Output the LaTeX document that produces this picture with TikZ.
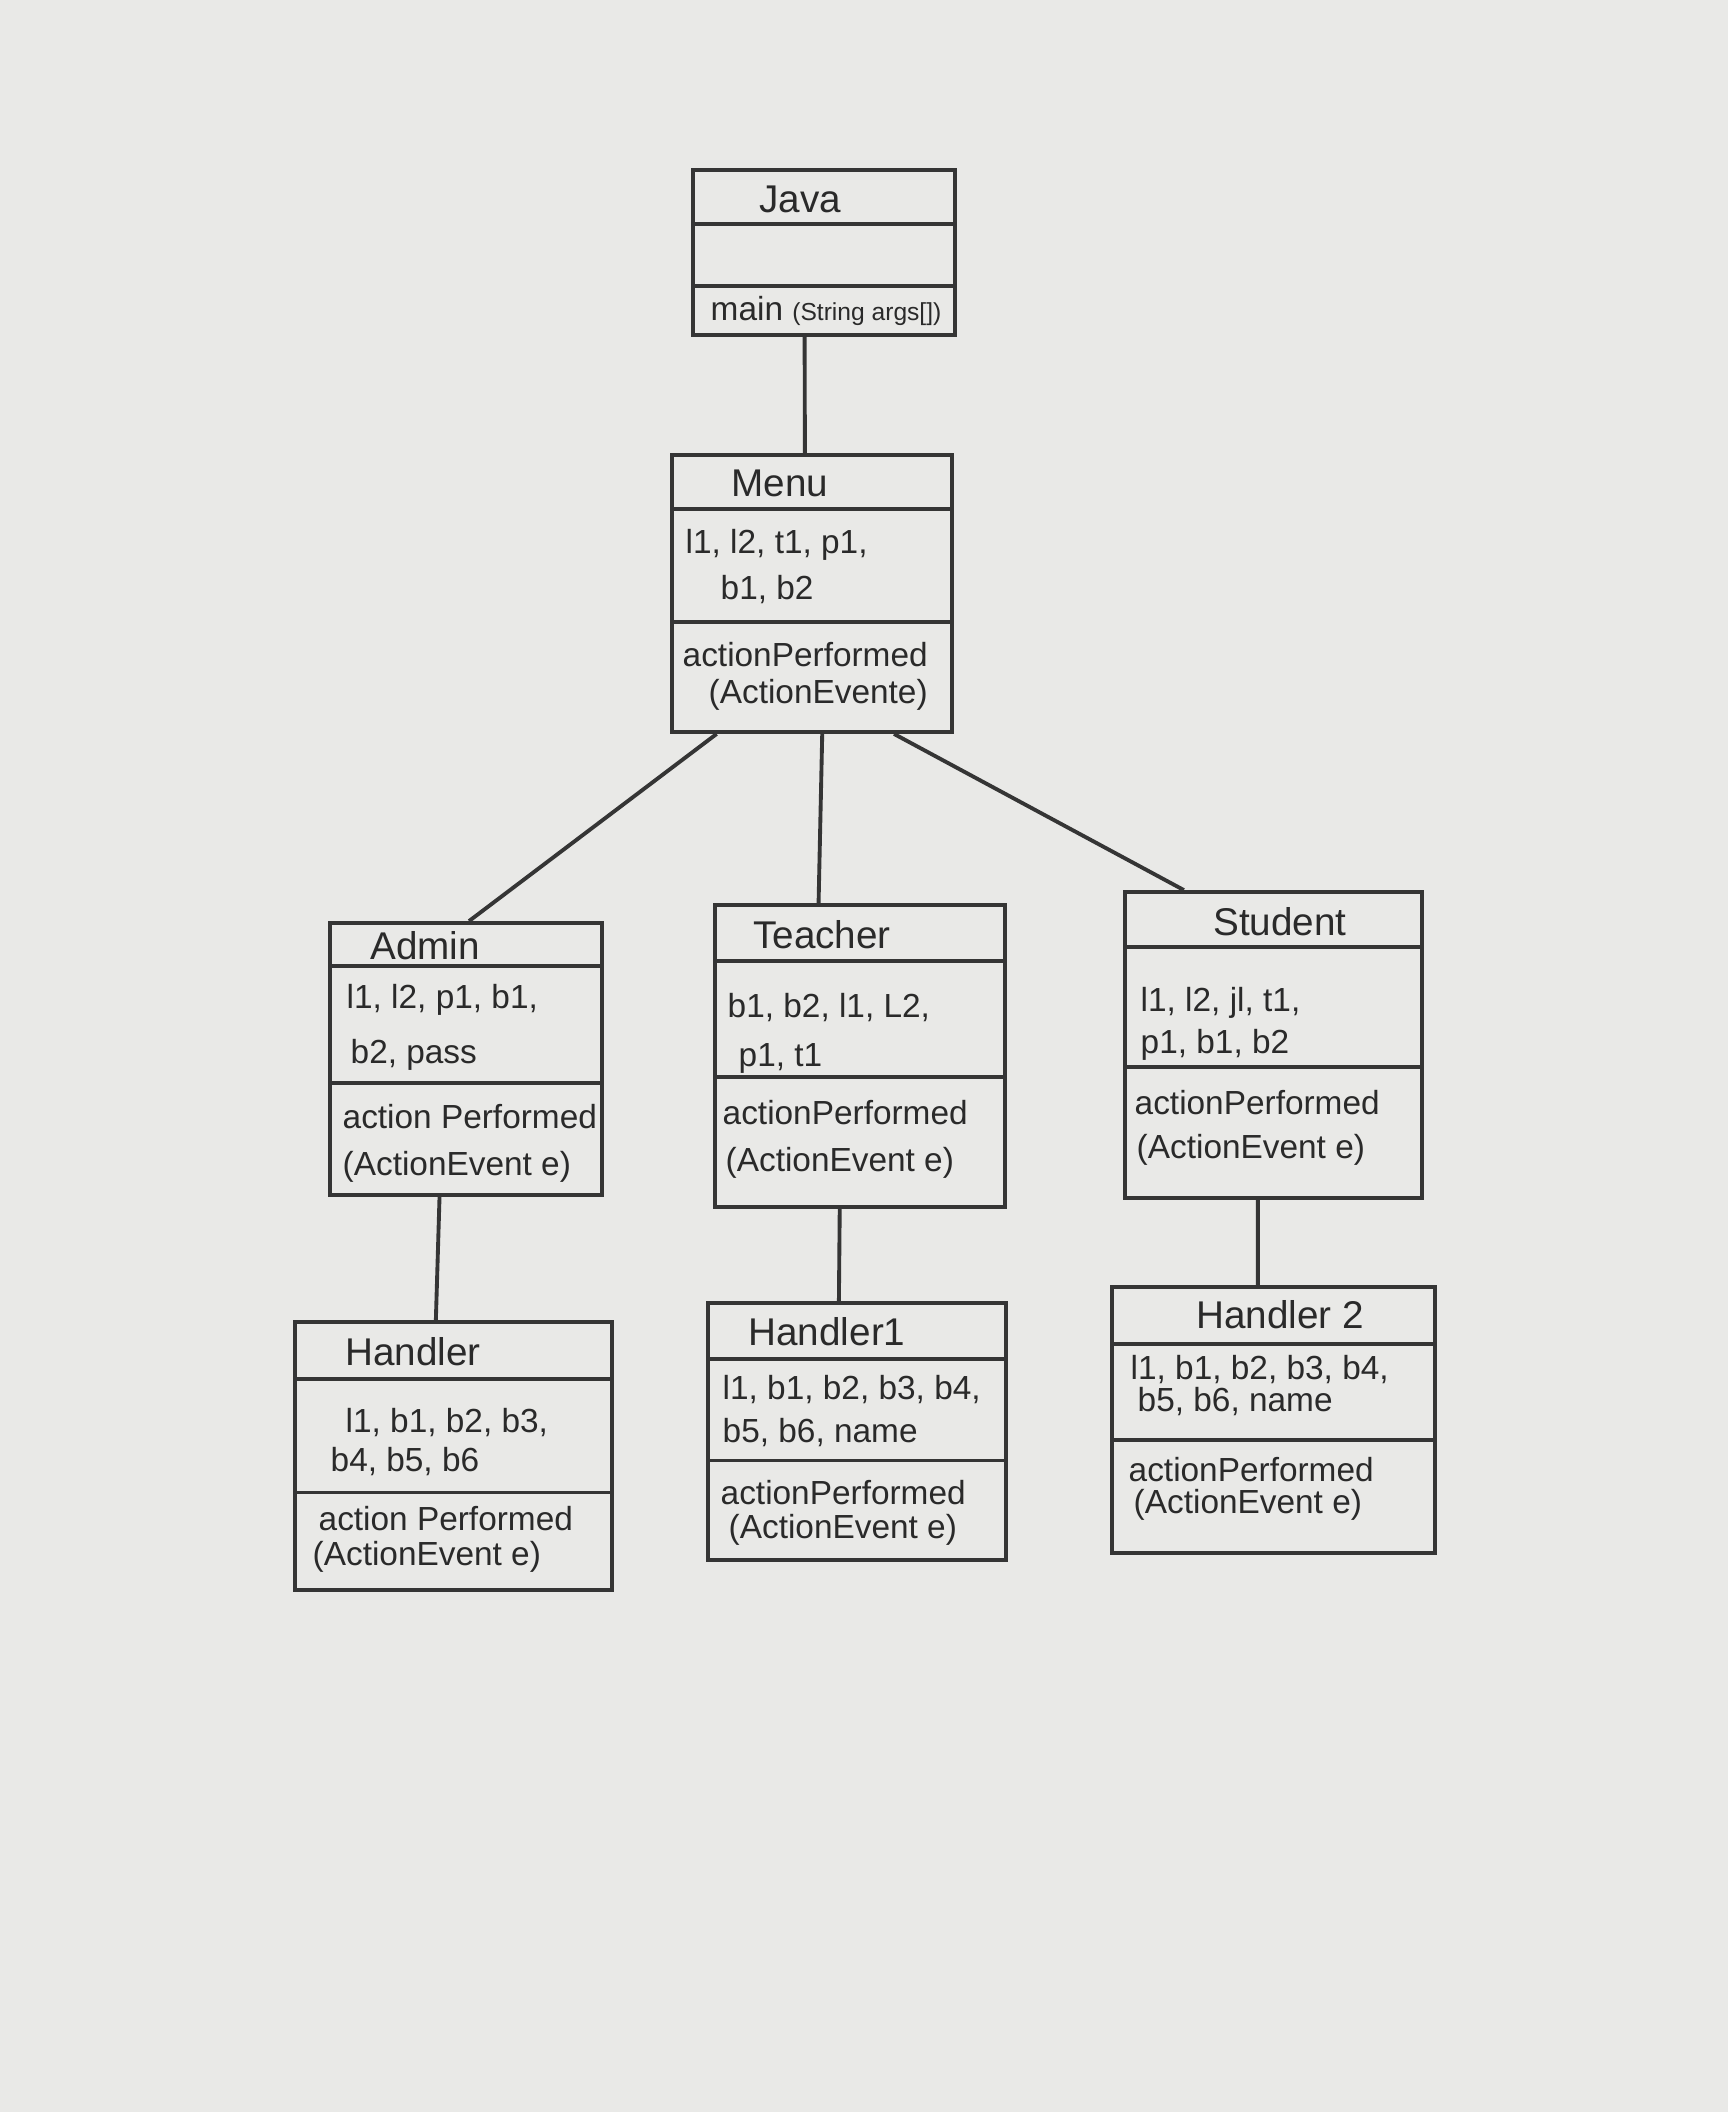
\documentclass[tikz,border=0pt]{standalone}
\usepackage{fontspec}
\setmainfont{Liberation Sans}
\usetikzlibrary{calc}
\definecolor{paper}{HTML}{E9E9E7}
\definecolor{pencil}{HTML}{353535}
\definecolor{ink}{HTML}{2A2A2A}
\tikzset{
  classbox/.style={draw=pencil, line width=1.1pt, inner sep=0pt},
  link/.style={draw=pencil, line width=1.1pt},
  title/.style={text=ink, font=\fontsize{11}{13}\selectfont, inner sep=0pt, anchor=center},
  body/.style={text=ink, font=\fontsize{9.5}{11}\selectfont, inner sep=0pt, anchor=west},
}
\newcommand\cdivider[2]{\draw[link] ($(#1.north west)!#2!(#1.south west)$) -- ($(#1.north east)!#2!(#1.south east)$);}
\begin{document}
\begin{tikzpicture}[x=0.1mm,y=-0.1mm]
\useasboundingbox (0,0) rectangle (1728,2112);
\fill[paper] (0,0) rectangle (1728,2112);

% class boxes
\node[classbox, minimum width=26.2mm, minimum height=16.5mm] (java) at (824,252.5) {};
\node[classbox, minimum width=28.0mm, minimum height=27.7mm] (menu) at (812,593.5) {};
\node[classbox, minimum width=27.2mm, minimum height=27.2mm] (admin) at (466,1059) {};
\node[classbox, minimum width=29.0mm, minimum height=30.2mm] (teacher) at (860,1056) {};
\node[classbox, minimum width=29.7mm, minimum height=30.6mm] (student) at (1273.5,1045) {};
\node[classbox, minimum width=31.7mm, minimum height=26.8mm] (handler) at (453.5,1456) {};
\node[classbox, minimum width=29.8mm, minimum height=25.7mm] (handlerone) at (857,1431.5) {};
\node[classbox, minimum width=32.3mm, minimum height=26.6mm] (handlertwo) at (1273.5,1420) {};

% compartment dividers
\cdivider{java}{0.333}\cdivider{java}{0.697}
\cdivider{menu}{0.199}\cdivider{menu}{0.603}
\cdivider{admin}{0.162}\cdivider{admin}{0.588}
\cdivider{teacher}{0.189}\cdivider{teacher}{0.570}
\cdivider{student}{0.183}\cdivider{student}{0.572}
\cdivider{handler}{0.216}\cdivider{handler}{0.634}
\cdivider{handlerone}{0.222}\cdivider{handlerone}{0.611}
\cdivider{handlertwo}{0.218}\cdivider{handlertwo}{0.575}

% connectors
\draw[link] ($(java.south west)!0.427!(java.south east)$) -- ($(menu.north west)!0.475!(menu.north east)$);
\draw[link] ($(menu.south west)!0.164!(menu.south east)$) -- ($(admin.north west)!0.511!(admin.north east)$);
\draw[link] ($(menu.south west)!0.536!(menu.south east)$) -- ($(teacher.north west)!0.359!(teacher.north east)$);
\draw[link] ($(menu.south west)!0.789!(menu.south east)$) -- ($(student.north west)!0.202!(student.north east)$);
\draw[link] ($(admin.south west)!0.404!(admin.south east)$) -- ($(handler.north west)!0.445!(handler.north east)$);
\draw[link] ($(teacher.south west)!0.431!(teacher.south east)$) -- ($(handlerone.north west)!0.44!(handlerone.north east)$);
\draw[link] ($(student.south west)!0.448!(student.south east)$) -- ($(handlertwo.north west)!0.452!(handlertwo.north east)$);

% Java
\node[title] (javaT) at (800,199) {Java};
\node[body] (javaM) at (710,311) {main {\fontsize{7}{8}\selectfont(String args[])}};

% Menu
\node[title] (menuT) at (780,483) {Menu};
\node[body] (menuA1) at (685,545) {l1, l2, t1, p1,};
\node[body] (menuA2) at (720,590) {b1, b2};
\node[body] (menuM1) at (682,655) {actionPerformed};
\node[body] (menuM2) at (708,695) {(ActionEvente)};

% Admin
\node[title] (adminT) at (425,946) {Admin};
\node[body] (adminA1) at (346,1000) {l1, l2, p1, b1,};
\node[body] (adminA2) at (350,1055) {b2, pass};
\node[body] (adminM1) at (342,1117) {action Performed};
\node[body] (adminM2) at (342,1167) {(ActionEvent e)};

% Teacher
\node[title] (teacherT) at (822,935) {Teacher};
\node[body] (teacherA1) at (727,1008) {b1, b2, l1, L2,};
\node[body] (teacherA2) at (738,1058) {p1, t1};
\node[body] (teacherM1) at (722,1113) {actionPerformed};
\node[body] (teacherM2) at (725,1163) {(ActionEvent e)};

% Student
\node[title] (studentT) at (1280,922) {Student};
\node[body] (studentA1) at (1140,1003) {l1, l2, jl, t1,};
\node[body] (studentA2) at (1140,1045) {p1, b1, b2};
\node[body] (studentM1) at (1134,1103) {actionPerformed};
\node[body] (studentM2) at (1136,1150) {(ActionEvent e)};

% Handler
\node[title] (handlerT) at (413,1352) {Handler};
\node[body] (handlerA1) at (345,1423) {l1, b1, b2, b3,};
\node[body] (handlerA2) at (330,1462) {b4, b5, b6};
\node[body] (handlerM1) at (318,1519) {action Performed};
\node[body] (handlerM2) at (312,1557) {(ActionEvent e)};

% Handler1
\node[title] (handleroneT) at (827,1332) {Handler1};
\node[body] (handleroneA1) at (722,1390) {l1, b1, b2, b3, b4,};
\node[body] (handleroneA2) at (722,1433) {b5, b6, name};
\node[body] (handleroneM1) at (720,1493) {actionPerformed};
\node[body] (handleroneM2) at (728,1530) {(ActionEvent e)};

% Handler 2
\node[title] (handlertwoT) at (1280,1315) {Handler 2};
\node[body] (handlertwoA1) at (1130,1370) {l1, b1, b2, b3, b4,};
\node[body] (handlertwoA2) at (1137,1402) {b5, b6, name};
\node[body] (handlertwoM1) at (1128,1470) {actionPerformed};
\node[body] (handlertwoM2) at (1133,1505) {(ActionEvent e)};
\end{tikzpicture}
\end{document}
